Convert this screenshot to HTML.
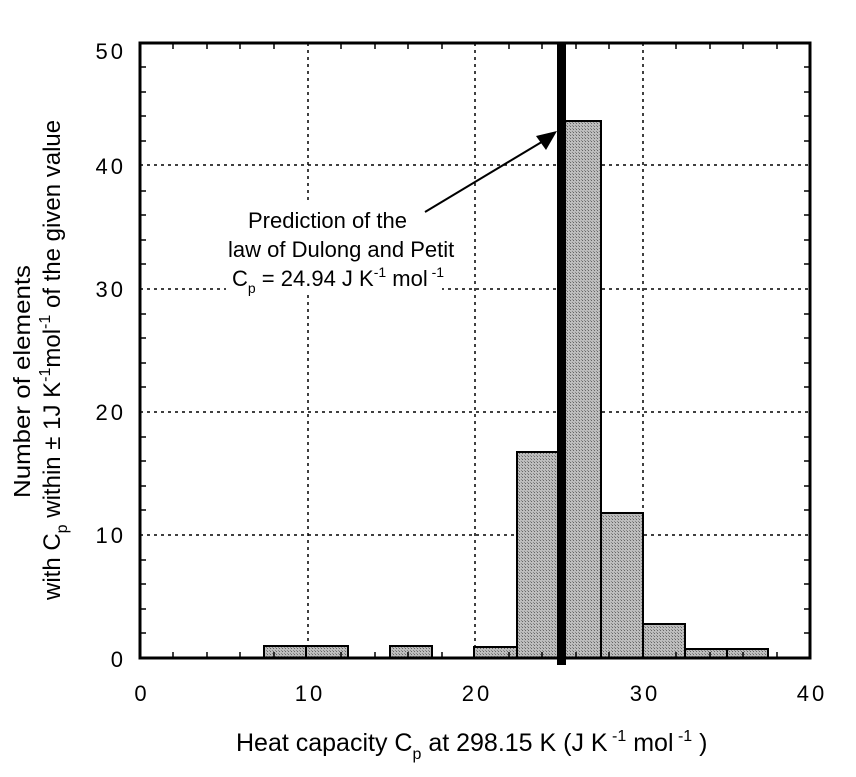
<!DOCTYPE html>
<html><head><style>body{margin:0;background:#fff}</style></head><body>
<svg width="856" height="772" xmlns="http://www.w3.org/2000/svg" font-family="Liberation Sans, sans-serif">
<defs>
<pattern id="g" width="3" height="3" patternUnits="userSpaceOnUse"><rect width="3" height="3" fill="#bdbdbd"/><rect width="1" height="1" fill="#666"/><rect x="2" y="2" width="1" height="1" fill="#888"/></pattern>
</defs>
<g stroke="#000" stroke-width="1.5" stroke-dasharray="3,4" fill="none">
<line x1="308" y1="43" x2="308" y2="658"/><line x1="475" y1="43" x2="475" y2="658"/><line x1="643" y1="43" x2="643" y2="658"/>
<line x1="140" y1="535" x2="810" y2="535"/><line x1="140" y1="412" x2="810" y2="412"/><line x1="140" y1="289" x2="810" y2="289"/><line x1="140" y1="165" x2="810" y2="165"/>
</g>
<rect x="226" y="204" width="216" height="90" fill="#fff"/>
<g stroke="#000" stroke-width="2" fill="url(#g)">
<rect x="264" y="646" width="42" height="12"/><rect x="306" y="646" width="42" height="12"/>
<rect x="390" y="646" width="42" height="12"/><rect x="474" y="647" width="43" height="11"/>
<rect x="517" y="452" width="42" height="206"/><rect x="559" y="121" width="42" height="537"/>
<rect x="601" y="513" width="42" height="145"/><rect x="643" y="624" width="42" height="34"/>
<rect x="685" y="649" width="42" height="9"/><rect x="727" y="649" width="41" height="9"/>
</g>
<rect x="140" y="43" width="670" height="615" fill="none" stroke="#000" stroke-width="3"/>
<g stroke="#000" stroke-width="1.5">
<path d="M173 658v-6M207 658v-6M240 658v-6M274 658v-6M341 658v-6M375 658v-6M408 658v-6M442 658v-6M509 658v-6M542 658v-6M576 658v-6M609 658v-6M676 658v-6M710 658v-6M743 658v-6M777 658v-6"/>
<path d="M173 43v6M207 43v6M240 43v6M274 43v6M341 43v6M375 43v6M408 43v6M442 43v6M509 43v6M542 43v6M576 43v6M609 43v6M676 43v6M710 43v6M743 43v6M777 43v6"/>
<path d="M140 633h6M140 609h6M140 584h6M140 560h6M140 510h6M140 486h6M140 461h6M140 437h6M140 387h6M140 363h6M140 338h6M140 314h6M140 264h6M140 240h6M140 215h6M140 191h6M140 141h6M140 116h6M140 92h6M140 67h6"/>
<path d="M810 633h-6M810 609h-6M810 584h-6M810 560h-6M810 510h-6M810 486h-6M810 461h-6M810 437h-6M810 387h-6M810 363h-6M810 338h-6M810 314h-6M810 264h-6M810 240h-6M810 215h-6M810 191h-6M810 141h-6M810 116h-6M810 92h-6M810 67h-6"/>
</g>
<rect x="557" y="43" width="9" height="622" fill="#000"/>
<line x1="425" y1="212" x2="545" y2="140" stroke="#000" stroke-width="2"/>
<polygon points="557,131 536,136 546,150" fill="#000"/>
<g font-size="22" fill="#000" text-anchor="end" letter-spacing="3">
<text x="126" y="667">0</text><text x="126" y="543">10</text><text x="126" y="420">20</text><text x="126" y="297">30</text><text x="126" y="174">40</text><text x="126" y="59">50</text>
</g>
<g font-size="22" fill="#000" text-anchor="middle" letter-spacing="3">
<text x="142" y="701">0</text><text x="310" y="701">10</text><text x="477" y="701">20</text><text x="645" y="701">30</text><text x="812" y="701">40</text>
</g>
<g font-size="22" fill="#000">
<text x="248" y="228">Prediction of the</text>
<text x="228" y="257">law of Dulong and Petit</text>
<text x="232" y="286">C<tspan font-size="14" dy="7">p</tspan><tspan dy="-7"> = 24.94 J K</tspan><tspan font-size="14" dy="-9">-1</tspan><tspan dy="9"> mol</tspan><tspan font-size="14" dy="-9"> -1</tspan></text>
</g>
<text x="236" y="751" font-size="25" fill="#000">Heat capacity C<tspan font-size="16" dy="8">p</tspan><tspan dy="-8"> at 298.15 K (J K</tspan><tspan font-size="16" dy="-10"> -1</tspan><tspan dy="10"> mol</tspan><tspan font-size="16" dy="-10"> -1</tspan><tspan dy="10"> )</tspan></text>
<g fill="#000" transform="rotate(-90)">
<text x="-498" y="30" font-size="23" textLength="233" lengthAdjust="spacingAndGlyphs">Number of elements</text>
<text x="-600" y="60" font-size="24">with C<tspan font-size="16" dy="7">p</tspan><tspan dy="-7"> within ± 1J K</tspan><tspan font-size="16" dy="-10">-1</tspan><tspan dy="10">mol</tspan><tspan font-size="16" dy="-10">-1</tspan><tspan dy="10"> of the given value</tspan></text>
</g>
</svg>
</body></html>
